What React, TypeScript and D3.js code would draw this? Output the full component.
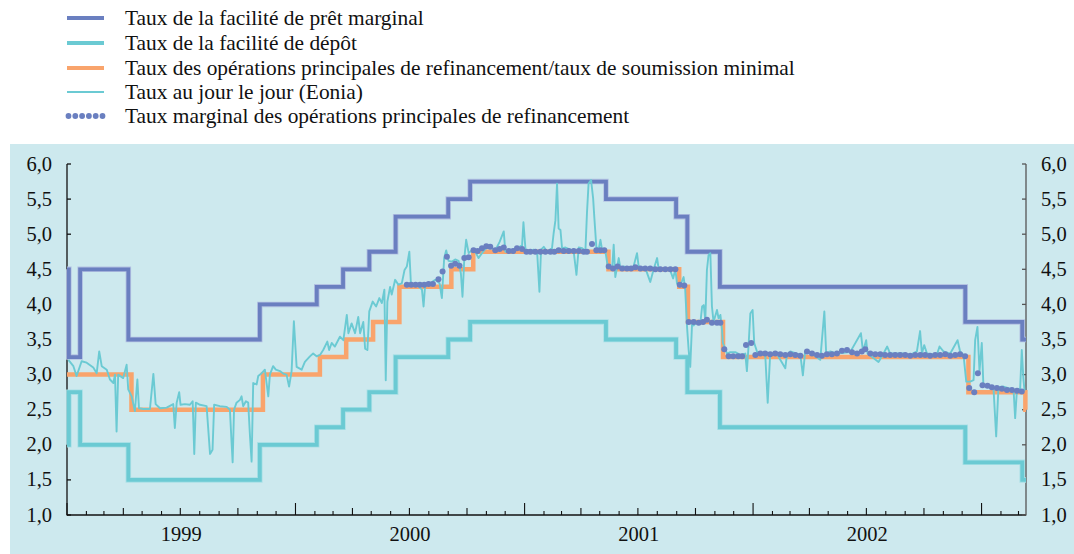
import * as d3 from "d3";

// Policy rates (step changes)
const facilityDates = ["1999-01-01", "1999-01-04", "1999-01-22", "1999-04-09", "1999-11-05", "2000-02-04", "2000-03-17", "2000-04-28", "2000-06-09", "2000-09-01", "2000-10-06", "2001-05-11", "2001-08-31", "2001-09-18", "2001-11-09", "2002-12-06", "2003-03-07"];
const lendingRates = [4.5, 3.25, 4.5, 3.5, 4.0, 4.25, 4.5, 4.75, 5.25, 5.5, 5.75, 5.5, 5.25, 4.75, 4.25, 3.75, 3.5];
const depositRates = [2.0, 2.75, 2.0, 1.5, 2.0, 2.25, 2.5, 2.75, 3.25, 3.5, 3.75, 3.5, 3.25, 2.75, 2.25, 1.75, 1.5];

const mroDates = ["1999-01-01", "1999-04-14", "1999-11-10", "2000-02-09", "2000-03-22", "2000-05-04", "2000-06-15", "2000-09-06", "2000-10-11", "2001-05-15", "2001-09-05", "2001-09-19", "2001-11-14", "2002-12-11", "2003-03-12"];
const mroRates = [3.0, 2.5, 3.0, 3.25, 3.5, 3.75, 4.25, 4.5, 4.75, 4.5, 4.25, 3.75, 3.25, 2.75, 2.5];

// Eonia (decimal year, rate)
const eoniaT = [1999.006, 1999.028, 1999.042, 1999.064, 1999.086, 1999.115, 1999.130, 1999.141, 1999.152, 1999.174, 1999.188, 1999.203, 1999.210, 1999.217, 1999.224, 1999.246, 1999.261, 1999.268, 1999.283, 1999.297, 1999.308, 1999.315, 1999.334, 1999.363, 1999.378, 1999.388, 1999.407, 1999.436, 1999.465, 1999.472, 1999.480, 1999.491, 1999.497, 1999.516, 1999.538, 1999.550, 1999.557, 1999.564, 1999.582, 1999.611, 1999.626, 1999.637, 1999.644, 1999.669, 1999.699, 1999.713, 1999.720, 1999.725, 1999.731, 1999.742, 1999.757, 1999.764, 1999.771, 1999.783, 1999.793, 1999.801, 1999.808, 1999.815, 1999.830, 1999.837, 1999.852, 1999.866, 1999.881, 1999.888, 1999.902, 1999.914, 1999.932, 1999.949, 1999.961, 1999.972, 1999.983, 1999.993,
  2000.005, 2000.027, 2000.041, 2000.063, 2000.077, 2000.092, 2000.107, 2000.121, 2000.139, 2000.147, 2000.158, 2000.172, 2000.194, 2000.209, 2000.224, 2000.231, 2000.245, 2000.260, 2000.274, 2000.282, 2000.296, 2000.304, 2000.314, 2000.322, 2000.337, 2000.352, 2000.366, 2000.377, 2000.388, 2000.394, 2000.401, 2000.413, 2000.420, 2000.435, 2000.449, 2000.464, 2000.476, 2000.486, 2000.497, 2000.504, 2000.530, 2000.552, 2000.559, 2000.566, 2000.588, 2000.610, 2000.629, 2000.639, 2000.649, 2000.658, 2000.668, 2000.683, 2000.697, 2000.712, 2000.722, 2000.729, 2000.737, 2000.745, 2000.756, 2000.770, 2000.785, 2000.799, 2000.814, 2000.836, 2000.858, 2000.872, 2000.891, 2000.909, 2000.916, 2000.938, 2000.967, 2000.989, 2000.995,
  2001.004, 2001.018, 2001.040, 2001.055, 2001.065, 2001.072, 2001.084, 2001.098, 2001.120, 2001.127, 2001.135, 2001.142, 2001.149, 2001.157, 2001.164, 2001.179, 2001.200, 2001.215, 2001.227, 2001.237, 2001.252, 2001.266, 2001.273, 2001.280, 2001.291, 2001.300, 2001.305, 2001.314, 2001.324, 2001.332, 2001.339, 2001.354, 2001.364, 2001.383, 2001.390, 2001.397, 2001.412, 2001.419, 2001.434, 2001.463, 2001.477, 2001.492, 2001.499, 2001.514, 2001.528, 2001.550, 2001.565, 2001.580, 2001.587, 2001.608, 2001.638, 2001.650, 2001.660, 2001.667, 2001.679, 2001.696, 2001.703, 2001.711, 2001.718, 2001.725, 2001.733, 2001.740, 2001.755, 2001.769, 2001.777, 2001.784, 2001.791, 2001.798, 2001.805, 2001.813, 2001.820, 2001.827, 2001.842, 2001.849, 2001.857, 2001.864, 2001.868, 2001.886, 2001.900, 2001.922, 2001.944, 2001.966, 2001.973, 2001.980, 2001.988, 2001.998,
  2002.005, 2002.017, 2002.032, 2002.053, 2002.064, 2002.075, 2002.105, 2002.141, 2002.148, 2002.163, 2002.207, 2002.218, 2002.228, 2002.250, 2002.294, 2002.312, 2002.320, 2002.338, 2002.367, 2002.425, 2002.472, 2002.481, 2002.495, 2002.501, 2002.549, 2002.571, 2002.587, 2002.600, 2002.658, 2002.688, 2002.717, 2002.731, 2002.739, 2002.749, 2002.761, 2002.804, 2002.816, 2002.833, 2002.863, 2002.895, 2002.906, 2002.921, 2002.933, 2002.950, 2002.965, 2002.972, 2002.982, 2002.991,
  2003.001, 2003.008, 2003.023, 2003.052, 2003.064, 2003.074, 2003.096, 2003.125, 2003.140, 2003.147, 2003.155, 2003.169, 2003.176, 2003.183, 2003.188];
const eoniaV = [3.21, 3.12, 2.98, 3.19, 3.17, 3.10, 3.02, 3.33, 3.12, 3.07, 2.93, 2.88, 3.0, 2.19, 3.0, 2.95, 3.14, 2.79, 2.69, 2.48, 2.93, 2.52, 2.51, 2.51, 3.01, 2.58, 2.52, 2.53, 2.58, 2.24, 2.60, 2.75, 2.57, 2.58, 2.57, 2.62, 1.87, 2.60, 2.57, 2.55, 1.87, 1.93, 2.57, 2.55, 2.54, 2.50, 2.05, 1.75, 2.50, 2.60, 2.64, 2.69, 2.55, 2.62, 2.60, 2.12, 1.76, 2.88, 2.86, 2.98, 3.02, 3.07, 2.69, 3.0, 3.12, 3.07, 3.05, 3.01, 3.0, 2.83, 3.05, 3.76,
  3.11, 3.07, 3.18, 3.26, 3.30, 3.26, 3.28, 3.35, 3.47, 3.35, 3.45, 3.40, 3.54, 3.49, 3.85, 3.59, 3.73, 3.59, 3.82, 3.59, 3.75, 3.37, 3.35, 3.90, 4.04, 3.97, 4.09, 4.02, 4.21, 2.92, 4.04, 4.25, 4.14, 4.35, 4.28, 4.30, 4.49, 4.54, 4.75, 4.28, 4.28, 4.21, 3.97, 4.28, 4.30, 4.35, 4.30, 4.09, 4.66, 4.77, 4.62, 4.61, 4.64, 4.62, 4.44, 4.11, 4.66, 4.92, 4.73, 4.77, 4.75, 4.66, 4.73, 4.82, 4.80, 4.77, 4.89, 5.04, 4.75, 4.77, 4.80, 4.84, 5.17,
  4.78, 4.75, 4.78, 4.74, 4.18, 4.78, 4.82, 4.75, 4.80, 5.01, 5.20, 5.72, 5.08, 5.06, 4.80, 4.81, 4.78, 4.75, 4.42, 4.81, 4.80, 4.75, 5.30, 5.72, 5.77, 5.51, 5.25, 4.82, 4.78, 4.92, 4.78, 4.75, 4.54, 4.50, 4.85, 4.39, 4.66, 4.52, 4.54, 4.50, 4.54, 4.73, 4.55, 4.50, 4.52, 4.32, 4.50, 4.66, 4.50, 4.50, 4.48, 4.37, 4.50, 4.30, 4.25, 4.39, 4.21, 3.68, 3.35, 3.11, 3.73, 3.70, 3.75, 3.73, 3.97, 3.99, 3.78, 4.49, 4.70, 4.73, 3.97, 3.75, 3.92, 3.80, 3.85, 3.64, 3.45, 3.30, 3.32, 3.32, 3.28, 3.30, 3.05, 3.40, 3.87, 3.92,
  3.45, 3.33, 3.28, 3.30, 2.60, 3.30, 3.29, 3.09, 3.28, 3.33, 3.28, 2.99, 3.33, 3.32, 3.21, 3.90, 3.30, 3.33, 3.30, 3.32, 3.59, 3.33, 3.49, 3.30, 3.18, 3.30, 3.40, 3.30, 3.30, 3.28, 3.33, 3.62, 3.30, 3.42, 3.30, 3.28, 3.40, 3.33, 3.30, 3.49, 3.33, 3.28, 2.90, 2.90, 2.92, 3.49, 3.68, 3.05,
  3.45, 2.85, 2.83, 2.82, 2.12, 2.82, 2.83, 2.80, 2.79, 2.38, 2.79, 2.80, 3.35, 2.95, 2.77];

// Marginal rate of main refinancing operations (decimal year, rate)
const marginalT = [2000.486, 2000.505, 2000.524, 2000.543, 2000.562, 2000.581, 2000.600, 2000.624, 2000.642, 2000.661, 2000.679, 2000.697, 2000.716, 2000.737, 2000.756, 2000.777, 2000.795, 2000.814, 2000.833, 2000.850, 2000.872, 2000.891, 2000.909, 2000.931, 2000.950, 2000.967, 2000.989,
  2001.008, 2001.025, 2001.047, 2001.069, 2001.091, 2001.113, 2001.130, 2001.149, 2001.171, 2001.193, 2001.215, 2001.237, 2001.259, 2001.273, 2001.295, 2001.314, 2001.332, 2001.349, 2001.368, 2001.387, 2001.407, 2001.427, 2001.448, 2001.466, 2001.485, 2001.507, 2001.528, 2001.550, 2001.572, 2001.594, 2001.616, 2001.638, 2001.660, 2001.679, 2001.699, 2001.718, 2001.740, 2001.762, 2001.781, 2001.798, 2001.820, 2001.842, 2001.857, 2001.874, 2001.893, 2001.913, 2001.935, 2001.952, 2001.969, 2001.992,
  2002.010, 2002.032, 2002.053, 2002.075, 2002.097, 2002.119, 2002.141, 2002.163, 2002.185, 2002.207, 2002.236, 2002.258, 2002.280, 2002.301, 2002.323, 2002.345, 2002.367, 2002.389, 2002.411, 2002.433, 2002.455, 2002.476, 2002.491, 2002.513, 2002.535, 2002.557, 2002.578, 2002.600, 2002.622, 2002.644, 2002.666, 2002.688, 2002.710, 2002.732, 2002.753, 2002.775, 2002.797, 2002.819, 2002.841, 2002.863, 2002.885, 2002.906, 2002.928, 2002.946, 2002.968, 2002.984,
  2003.004, 2003.026, 2003.045, 2003.067, 2003.089, 2003.111, 2003.133, 2003.155, 2003.176];
const marginalV = [4.28, 4.28, 4.28, 4.28, 4.28, 4.29, 4.29, 4.36, 4.47, 4.68, 4.55, 4.58, 4.55, 4.66, 4.67, 4.77, 4.76, 4.80, 4.83, 4.82, 4.77, 4.79, 4.81, 4.76, 4.76, 4.80, 4.79,
  4.75, 4.75, 4.75, 4.75, 4.75, 4.75, 4.75, 4.77, 4.76, 4.76, 4.76, 4.76, 4.75, 4.75, 4.86, 4.77, 4.77, 4.77, 4.54, 4.51, 4.54, 4.51, 4.51, 4.51, 4.53, 4.51, 4.51, 4.51, 4.50, 4.50, 4.50, 4.50, 4.50, 4.28, 4.27, 3.75, 3.75, 3.74, 3.75, 3.78, 3.74, 3.74, 3.74, 3.36, 3.26, 3.26, 3.26, 3.26, 3.42, 3.45,
  3.28, 3.30, 3.30, 3.29, 3.30, 3.29, 3.28, 3.29, 3.28, 3.27, 3.33, 3.30, 3.28, 3.27, 3.29, 3.29, 3.30, 3.34, 3.35, 3.32, 3.30, 3.33, 3.36, 3.30, 3.29, 3.29, 3.28, 3.28, 3.28, 3.28, 3.28, 3.27, 3.28, 3.28, 3.28, 3.27, 3.28, 3.28, 3.29, 3.27, 3.28, 3.29, 3.26, 2.81, 2.75, 3.02,
  2.85, 2.84, 2.82, 2.81, 2.80, 2.78, 2.78, 2.77, 2.76];

const yTicks = [1.0, 1.5, 2.0, 2.5, 3.0, 3.5, 4.0, 4.5, 5.0, 5.5, 6.0];
const yearLabels = [1999, 2000, 2001, 2002];
const legendLabels = [
  "Taux de la facilité de prêt marginal",
  "Taux de la facilité de dépôt",
  "Taux des opérations principales de refinancement/taux de soumission minimal",
  "Taux au jour le jour (Eonia)",
  "Taux marginal des opérations principales de refinancement",
];

const BLUE = "#6a7fc0";
const CYAN = "#6bcad3";
const ORANGE = "#f9a46c";
const FONT = "'Liberation Serif', 'DejaVu Serif', 'Times New Roman', serif";

const startDate = new Date(Date.UTC(1999, 0, 1));
const endDate = new Date(Date.UTC(2003, 2, 13));

function fromDecimal(t: number) {
  const y = Math.floor(t);
  const s = Date.UTC(y, 0, 1);
  const e = Date.UTC(y + 1, 0, 1);
  return new Date(s + (t - y) * (e - s));
}

function steps(dates: string[], rates: number[]) {
  const pts = dates.map((d, i) => ({ date: new Date(d + "T00:00:00Z"), v: rates[i] }));
  pts.push({ date: endDate, v: rates[rates.length - 1] });
  return pts;
}

export default function App() {
  const x = d3.scaleUtc().domain([startDate, endDate]).range([67, 1026]);
  const y = d3.scaleLinear().domain([1, 6]).range([515, 164]);

  const stepLine = d3.line<{ date: Date; v: number }>()
    .x((d) => x(d.date))
    .y((d) => y(d.v))
    .curve(d3.curveStepAfter);

  const plainLine = d3.line<{ date: Date; v: number }>()
    .x((d) => x(d.date))
    .y((d) => y(d.v));

  const lending = steps(facilityDates, lendingRates);
  const deposit = steps(facilityDates, depositRates);
  const mro = steps(mroDates, mroRates);
  const eonia = eoniaT.map((t, i) => ({ date: fromDecimal(t), v: eoniaV[i] }));
  const marginal = marginalT.map((t, i) => ({ date: fromDecimal(t), v: marginalV[i] }));

  const months = d3.utcMonth.range(startDate, endDate);
  const legendY = [18, 43, 68, 92, 116];
  const fmt = (t: number) => t.toFixed(1).replace(".", ",");

  return (
    <svg width={1074} height={554} style={{ display: "block", position: "absolute", left: 0, top: 0 }}>
      <rect x={0} y={0} width={1074} height={554} fill="#ffffff" />
      {/* legend */}
      <g style={{ fontFamily: FONT }} fontSize={21.4} fill="#111">
        <line x1={67} x2={104} y1={legendY[0]} y2={legendY[0]} stroke={BLUE} strokeWidth={4} />
        <line x1={67} x2={104} y1={legendY[1]} y2={legendY[1]} stroke={CYAN} strokeWidth={4} />
        <line x1={67} x2={104} y1={legendY[2]} y2={legendY[2]} stroke={ORANGE} strokeWidth={4} />
        <line x1={67} x2={104} y1={legendY[3]} y2={legendY[3]} stroke={CYAN} strokeWidth={2} />
        {d3.range(6).map((i) => (
          <circle key={i} cx={68.5 + i * 6.8} cy={legendY[4]} r={2.9} fill={BLUE} />
        ))}
        {legendLabels.map((l, i) => (
          <text key={l} x={125} y={legendY[i] + 7}>{l}</text>
        ))}
      </g>

      {/* panel */}
      <rect x={10} y={144} width={1064} height={410} fill="#cde9ee" />

      {/* axes */}
      <g stroke="#111" strokeWidth={1.3} fill="none">
        <line x1={67} x2={67} y1={164} y2={515.5} />
        <line x1={67} x2={1026} y1={515} y2={515} />
        <line x1={1026} x2={1026} y1={164} y2={515.5} stroke="#555" />
        {yTicks.map((t) => (
          <g key={t}>
            <line x1={67} x2={71} y1={y(t)} y2={y(t)} />
            <line x1={1022} x2={1026} y1={y(t)} y2={y(t)} stroke="#555" />
          </g>
        ))}
        {months.map((m) => {
          const mo = m.getUTCMonth();
          const len = mo === 0 ? 12 : mo % 3 === 0 ? 7 : 4;
          return <line key={+m} x1={x(m)} x2={x(m)} y1={515} y2={515 - len} strokeWidth={1.1} />;
        })}
      </g>
      <g style={{ fontFamily: FONT }} fontSize={20.5} fill="#111">
        {yTicks.map((t) => (
          <g key={t}>
            <text x={52} y={y(t) + 6.5} textAnchor="end">{fmt(t)}</text>
            <text x={1041} y={y(t) + 6.5}>{fmt(t)}</text>
          </g>
        ))}
        {yearLabels.map((yr) => {
          const cx = (x(new Date(Date.UTC(yr, 0, 1))) + x(new Date(Date.UTC(yr + 1, 0, 1)))) / 2;
          return <text key={yr} x={cx} y={541} textAnchor="middle">{yr}</text>;
        })}
      </g>

      {/* series */}
      <path d={stepLine(lending) || ""} fill="none" stroke="#b4c2e2" strokeWidth={5.5} />
      <path d={stepLine(lending) || ""} fill="none" stroke={BLUE} strokeWidth={3.8} />
      <path d={stepLine(deposit) || ""} fill="none" stroke="#a9e0e6" strokeWidth={5.5} />
      <path d={stepLine(deposit) || ""} fill="none" stroke={CYAN} strokeWidth={3.8} />
      <path d={stepLine(mro) || ""} fill="none" stroke={ORANGE} strokeWidth={4.5} />
      <path d={plainLine(eonia) || ""} fill="none" stroke={CYAN} strokeWidth={1.9} strokeLinejoin="round" />
      {marginal.map((d, i) => (
        <circle key={i} cx={x(d.date)} cy={y(d.v)} r={3} fill={BLUE} />
      ))}
    </svg>
  );
}
